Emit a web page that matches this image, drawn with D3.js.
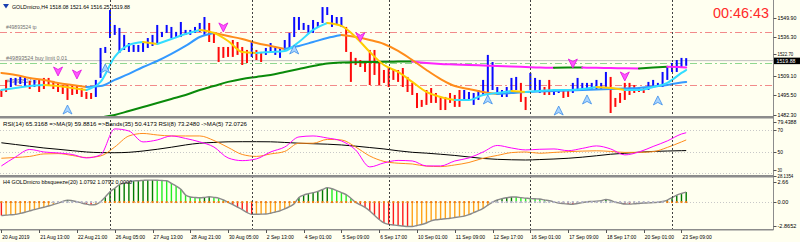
<!DOCTYPE html>
<html><head><meta charset="utf-8">
<script src="https://cdn.jsdelivr.net/npm/d3@7"></script>
<style>
html,body{margin:0;padding:0;background:#fffff0;}
svg{display:block;}
text{font-family:"Liberation Sans",Arial,sans-serif;}
</style></head><body>
<svg id="c" width="800" height="242"></svg>
<script>
// ---------------- DATA ----------------
const dateLabels = ["20 Aug 2019","21 Aug 13:00","22 Aug 21:00","26 Aug 05:00","27 Aug 13:00","28 Aug 21:00","30 Aug 05:00","2 Sep 13:00","4 Sep 01:00","5 Sep 09:00","6 Sep 17:00","10 Sep 01:00","11 Sep 09:00","12 Sep 17:00","16 Sep 01:00","17 Sep 09:00","18 Sep 17:00","20 Sep 01:00","23 Sep 09:00"];
const weekStarts = [23,53,82,112,142];
const priceTicks = [1549.90,1536.30,1522.70,1509.10,1495.50,1482.30];
const lastPrice = 1519.88;
const highs = [1499.2,1506.3,1507.7,1507.7,1508.4,1507.7,1505.6,1506.3,1506.3,1507.7,
 1507.7,1505.6,1504.2,1502.7,1502.7,1502.7,1502.0,1500.6,1497.8,1497.1,
 1506.3,1528.8,1529.5,1555.5,1545.0,1542.9,1538.0,1532.3,1530.9,1530.9,
 1533.0,1535.8,1538.0,1545.0,1540.1,1545.0,1543.6,1540.1,1547.1,1541.5,
 1541.5,1543.6,1546.4,1550.6,1546.4,1540.1,1529.5,1529.5,1529.5,1534.4,
 1533.0,1529.5,1527.4,1533.0,1527.4,1526.0,1528.8,1532.3,1529.5,1528.8,
 1534.4,1539.4,1550.6,1550.6,1546.4,1545.0,1548.5,1547.1,1557.6,1557.6,
 1552.0,1550.6,1550.6,1543.6,1526.0,1521.8,1520.3,1518.9,1527.4,1527.4,
 1518.9,1513.3,1515.4,1513.3,1513.3,1514.7,1508.4,1504.2,1497.1,1492.2,
 1499.2,1500.6,1497.1,1494.3,1494.3,1497.1,1495.7,1499.2,1499.2,1497.8,
 1497.1,1499.2,1506.3,1523.9,1518.9,1501.3,1499.2,1501.3,1507.7,1508.4,
 1504.2,1494.3,1511.2,1507.7,1506.3,1501.3,1506.3,1499.2,1499.2,1499.2,
 1499.2,1504.2,1507.7,1504.2,1504.2,1504.2,1506.3,1504.2,1511.9,1508.4,
 1493.6,1497.1,1504.2,1504.2,1502.7,1501.3,1501.3,1504.9,1506.3,1504.2,
 1511.9,1515.4,1518.2,1520.3,1521.8,1521.64];
const lows = [1494.3,1497.8,1501.3,1502.7,1503.4,1502.0,1499.9,1501.3,1497.8,1499.9,
 1502.0,1499.9,1497.8,1496.4,1492.2,1495.7,1496.4,1494.3,1492.9,1492.9,
 1494.3,1507.7,1525.3,1535.8,1538.0,1525.3,1527.4,1526.0,1526.0,1526.0,
 1526.0,1528.8,1530.2,1532.3,1536.5,1539.4,1535.8,1535.8,1536.5,1538.0,
 1538.0,1539.4,1540.1,1538.0,1533.0,1532.3,1518.9,1521.8,1522.5,1522.5,
 1523.9,1516.8,1518.2,1522.5,1520.3,1518.9,1523.9,1525.3,1523.9,1521.8,
 1528.8,1528.8,1536.5,1541.5,1541.5,1539.4,1539.4,1543.6,1546.4,1552.0,
 1543.6,1545.0,1543.6,1526.0,1504.9,1516.8,1515.4,1511.9,1502.7,1509.8,
 1502.7,1504.2,1501.3,1506.3,1504.9,1501.3,1497.8,1495.7,1486.5,1487.3,
 1488.7,1490.1,1490.1,1485.1,1485.1,1490.1,1487.3,1487.3,1492.2,1492.2,
 1488.7,1492.2,1495.7,1497.1,1499.2,1495.7,1494.3,1494.3,1497.1,1499.2,
 1490.8,1485.1,1499.2,1497.8,1497.1,1495.7,1495.7,1495.7,1497.1,1493.6,
 1494.3,1497.1,1499.2,1499.2,1499.2,1499.2,1499.2,1499.2,1500.6,1483.0,
 1487.3,1490.1,1492.2,1495.7,1497.1,1497.8,1497.1,1499.2,1500.6,1501.3,
 1501.3,1506.3,1511.9,1511.9,1514.7,1516.25];
const barDir = "dduuuududd"+"dddddddddd"+"uuuuuuuuuu"+"uuuuuuuuuu"+"uuuudddddd"+
 "dddudduuuu"+"uuuuuuuuuu"+"uuuddddddd"+"dddddddddd"+"dddddddduu"+
 "uuuuuuuuuu"+"dduuudduud"+"duuuuuuuud"+"ddddddduuu"+"uuuuuu";
// moving averages sampled every 3 bars (bars 0,3,...,144,145)
const maFast = [1499.2,1500.6,1502.0,1502.7,1502.0,1500.6,1499.2,1504.9,1522.5,1530.9,
 1533.0,1531.6,1535.1,1538.6,1541.5,1539.4,1533.7,1526.0,1525.3,1526.0,
 1526.7,1533.0,1541.5,1546.4,1544.3,1536.5,1526.0,1516.8,1511.9,1504.9,
 1497.8,1494.3,1492.2,1492.2,1495.7,1497.1,1498.5,1497.8,1498.5,1499.2,
 1499.2,1499.9,1501.3,1500.6,1499.2,1499.2,1501.3,1504.2,1511.2,1513.3];
const maMid = [1511.2,1509.8,1507.7,1506.3,1504.2,1502.7,1501.3,1502.0,1506.3,1510.5,
 1515.4,1519.6,1524.6,1530.2,1536.5,1539.4,1537.2,1535.1,1532.3,1530.2,
 1528.1,1530.2,1533.0,1535.8,1537.9,1536.5,1534.4,1531.6,1526.7,1520.3,
 1513.3,1506.9,1502.0,1499.9,1497.8,1496.4,1497.1,1497.8,1498.2,1498.5,
 1498.9,1499.2,1499.6,1499.9,1500.3,1500.6,1501.7,1502.7,1504.5,1504.8];
const maSlow = [1464.0,1466.8,1469.6,1471.7,1473.9,1476.0,1478.1,1479.8,1481.6,1484.4,
 1487.2,1490.0,1492.9,1495.7,1499.2,1502.0,1504.9,1507.0,1508.4,1509.8,
 1511.9,1514.0,1516.1,1517.9,1518.6,1518.8,1518.9,1519.1,1519.2,1519.3,
 1518.2,1517.5,1517.2,1516.8,1516.5,1516.1,1515.8,1515.4,1515.0,1514.8,
 1515.0,1515.1,1514.8,1514.7,1514.5,1514.4,1515.0,1515.5,1515.3,1515.1];
const orderLevels = [{name:"#49893524 tp",price:1540.3,kind:"tp"},
 {name:"#49893524 buy limit 0.01",price:1518.4,kind:"limit"},
 {name:"#49893524 sl",price:1502.7,kind:"sl"}];
const upArrows = [{i:14,p:1485.1},{i:22,p:1514.0},{i:62,p:1527.4},{i:103,p:1492.2},{i:118,p:1484.4},{i:124,p:1492.2},{i:139,p:1491.5}];
const downArrows = [{i:12,p:1512.6},{i:16,p:1510.5},{i:47,p:1543.6},{i:76,p:1536.7},{i:121,p:1518.2},{i:132,p:1509.1}];
// RSI panel (sampled every 3 bars)
const rsi14 = [36.8,45.1,52.0,49.7,48.8,47.4,44.2,47.0,71.0,69.1,
 59.0,60.8,64.5,62.2,59.0,54.3,44.2,41.7,43.3,49.7,
 54.3,63.6,64.5,62.6,59.9,51.6,35.9,39.6,41.9,41.4,
 36.8,36.8,41.4,44.2,49.7,55.7,53.4,51.6,52.2,52.5,
 50.9,53.0,55.3,52.5,47.0,49.7,54.8,59.9,66.3,67.5];
const rsiMa = [43.9,44.6,45.6,47.9,48.2,46.5,44.6,46.0,54.3,64.5,
 66.8,65.4,64.5,64.5,64.5,60.3,53.9,47.4,45.6,47.9,
 50.2,57.8,57.8,61.3,60.8,54.3,46.0,41.0,39.3,38.6,
 36.6,36.2,37.7,40.0,43.9,46.5,49.1,49.7,48.5,49.3,
 50.0,50.5,50.8,50.2,49.3,49.4,50.0,53.9,59.0,60.8];
const rsiBands = [58.2,56.6,55.0,53.4,52.2,50.9,49.7,49.1,49.0,49.4,
 50.6,52.2,54.1,56.2,57.8,58.5,59.1,59.2,59.2,59.1,
 58.5,57.8,57.3,56.9,56.2,55.1,53.8,52.5,50.8,49.4,
 48.6,47.6,46.5,45.1,43.7,42.9,42.5,42.3,42.7,43.2,
 43.9,44.9,46.2,47.6,48.5,49.5,50.2,50.6,50.9,51.0];
const rsiTicks = [70,50,30];
// bbsqueeze per bar
const squeeze = [-1.47,-1.42,-1.38,-1.34,-1.23,-1.10,-0.96,-0.82,-0.69,-0.56,
 -0.43,-0.28,-0.11,0.06,0.21,0.14,0.04,-0.10,-0.22,-0.31,
 -0.26,0.04,0.55,1.12,1.50,1.88,2.05,2.17,2.29,2.31,
 2.35,2.38,2.38,2.36,2.33,2.31,2.03,1.74,1.38,0.76,
 0.55,0.50,0.47,0.51,0.57,0.51,0.43,0.23,-0.04,-0.29,
 -0.55,-0.82,-1.13,-1.33,-1.32,-1.31,-1.30,-1.21,-1.08,-0.95,
 -0.75,-0.50,-0.18,0.49,0.76,0.90,1.02,1.15,1.36,1.56,
 1.44,1.24,1.02,0.81,0.42,-0.03,-0.30,-0.57,-0.96,-1.44,
 -1.89,-2.26,-2.42,-2.48,-2.54,-2.59,-2.65,-2.65,-2.54,-2.43,
 -2.27,-2.03,-1.92,-1.87,-1.81,-1.76,-1.68,-1.60,-1.52,-1.37,
 -1.14,-0.94,-0.68,-0.34,-0.02,0.22,0.37,0.47,0.55,0.54,
 0.48,0.43,0.37,0.35,0.33,0.23,0.14,0.02,-0.11,-0.17,
 -0.21,-0.23,-0.15,-0.06,0.04,0.07,0.09,0.15,0.29,0.18,
 -0.02,-0.12,-0.21,-0.22,-0.19,-0.15,-0.11,-0.09,-0.06,-0.04,
 0.06,0.22,0.49,0.75,0.93,1.08];
const squeezeOffRanges = [[11,21],[104,140]];
const sqTicks = ["2.66","0.00","-2.8652"];

// ---------------- DRAW ----------------
const svg = d3.select("#c");
const nBars = highs.length;
const sampleIdx = d3.range(0,nBars-1,3).concat([nBars-1]);
const xS = d3.scaleLinear().domain([0,145]).range([1.37,686.2]);
const yP = d3.scaleLinear().domain([1482.3,1549.9]).range([114,18]);
const yR = d3.scaleLinear().domain([30,70]).range([173.3,130]);
const yS = d3.scaleLinear().domain([-2.8652,2.66]).range([228.5,177.5]);
const AX = 773.5;

svg.append("rect").attr("width",800).attr("height",242).attr("fill","#fffff0");
const defs = svg.append("defs");
defs.append("clipPath").attr("id","cm").append("rect").attr("x",0).attr("y",0).attr("width",773).attr("height",116);
defs.append("clipPath").attr("id","cr").append("rect").attr("x",0).attr("y",118.5).attr("width",773).attr("height",56.5);
defs.append("clipPath").attr("id","cs").append("rect").attr("x",0).attr("y",177.5).attr("width",773).attr("height",51.5);

const gMain = svg.append("g").attr("clip-path","url(#cm)");
const gRsi = svg.append("g").attr("clip-path","url(#cr)");
const gSq = svg.append("g").attr("clip-path","url(#cs)");

// order levels
const levelColor = {tp:"#f28a8a",sl:"#f28a8a",limit:"#8fd88f"};
orderLevels.forEach(o=>{
  gMain.append("line").attr("x1",0).attr("x2",AX).attr("y1",Math.round(yP(o.price))+0.5).attr("y2",Math.round(yP(o.price))+0.5)
   .attr("stroke",levelColor[o.kind]).attr("stroke-width",1).attr("stroke-dasharray","7,3,2,3");
});
// bid line
gMain.append("line").attr("x1",0).attr("x2",AX).attr("y1",yP(lastPrice)).attr("y2",yP(lastPrice)).attr("stroke","#c0c0c0").attr("stroke-width",1);
orderLevels.forEach(o=>{
  gMain.append("text").attr("x",6).attr("y",yP(o.price)-2.5).attr("font-size",6).attr("fill","#707070")
   .attr("textLength",o.name.length*2.55).attr("lengthAdjust","spacingAndGlyphs").text(o.name);
});

// week separators
weekStarts.forEach(i=>{
  svg.append("line").attr("x1",Math.round(xS(i))+0.5).attr("x2",Math.round(xS(i))+0.5).attr("y1",0).attr("y2",229)
   .attr("stroke","#404040").attr("stroke-width",1).attr("stroke-dasharray","2,2");
});

// bars
gMain.selectAll("rect.bar").data(d3.range(nBars)).enter().append("rect")
  .attr("x",i=>xS(i)-1).attr("width",2)
  .attr("y",i=>yP(highs[i])).attr("height",i=>Math.max(1,yP(lows[i])-yP(highs[i])))
  .attr("fill",i=>barDir[i]==="u"?"#0a0aff":"#ff0a0a");

// colored MA helper
function coloredLine(g, vals, yScale, upC, dnC, w){
  const pts = sampleIdx.map((i,k)=>[xS(i), yScale(vals[k]), vals[k]]);
  let runs=[]; let cur=null;
  for(let k=1;k<pts.length;k++){
    const up = pts[k][2]>=pts[k-1][2];
    if(!cur || cur.up!==up){ cur={up, pts:[pts[k-1]]}; runs.push(cur); }
    cur.pts.push(pts[k]);
  }
  const ln = d3.line().x(d=>d[0]).y(d=>d[1]).curve(d3.curveMonotoneX);
  runs.forEach(r=>{
    g.append("path").attr("d",ln(r.pts)).attr("fill","none").attr("stroke",r.up?upC:dnC)
     .attr("stroke-width",w).attr("stroke-linejoin","round").attr("stroke-linecap","round");
  });
}
coloredLine(gMain, maSlow, yP, "#0a8a0a", "#ff22ff", 2);
coloredLine(gMain, maMid, yP, "#3399ff", "#ff8c1a", 2);
coloredLine(gMain, maFast, yP, "#33ddff", "#ffcc00", 2);

// arrows
upArrows.forEach(a=>{
  gMain.append("path").attr("transform",`translate(${xS(a.i)},${yP(a.p)})`)
   .attr("d","M0,-5 L4.5,4 L0,1.5 L-4.5,4 Z").attr("fill","#a8d4ff").attr("stroke","#3d8ee8").attr("stroke-width",0.8);
});
downArrows.forEach(a=>{
  gMain.append("path").attr("transform",`translate(${xS(a.i)},${yP(a.p)})`)
   .attr("d","M-4.5,-4 L0,-1.5 L4.5,-4 L0,5 Z").attr("fill","#ff55ff").attr("stroke","#e010e0").attr("stroke-width",0.8);
});

// title
svg.append("path").attr("d","M3,4 L9,4 L6,8.5 Z").attr("fill","#1a3fb0");
const title = "GOLDmicro,H4  1518.08 1521.64 1516.25 1519.88";
svg.append("text").attr("x",12).attr("y",9).attr("font-size",6.2).attr("fill","#000")
  .attr("textLength",118).attr("lengthAdjust","spacingAndGlyphs").text(title);
// timer
svg.append("text").attr("x",713).attr("y",17.5).attr("font-size",14).attr("fill","#ff2a2a")
  .attr("textLength",56).attr("lengthAdjust","spacingAndGlyphs").text("00:46:43");

// RSI panel
rsiTicks.forEach(t=>{
  gRsi.append("line").attr("x1",0).attr("x2",AX).attr("y1",Math.round(yR(t))+0.5).attr("y2",Math.round(yR(t))+0.5)
   .attr("stroke","#c8c8c8").attr("stroke-dasharray","1,2");
});
const rl = d3.line().x((d,k)=>xS(sampleIdx[k])).y(d=>yR(d)).curve(d3.curveMonotoneX);
gRsi.append("path").attr("d",rl(rsiBands)).attr("fill","none").attr("stroke","#000").attr("stroke-width",1);
gRsi.append("path").attr("d",rl(rsiMa)).attr("fill","none").attr("stroke","#ff8c1a").attr("stroke-width",1);
gRsi.append("path").attr("d",rl(rsi14)).attr("fill","none").attr("stroke","#ff00ff").attr("stroke-width",1);
const rsiLabel = "RSI(14) 65.3168 =>MA(9) 59.8816 =>Bands(35) 50.4173 RSI(8) 73.2480 ->MA(5) 72.0726";
svg.append("text").attr("x",3).attr("y",126).attr("font-size",6).attr("fill","#000")
  .attr("textLength",244).attr("lengthAdjust","spacingAndGlyphs").text(rsiLabel);

// squeeze panel
gSq.append("line").attr("x1",0).attr("x2",AX).attr("y1",Math.round(yS(0))+0.5).attr("y2",Math.round(yS(0))+0.5)
  .attr("stroke","#c8c8c8").attr("stroke-dasharray","1,2");
gSq.selectAll("line.h").data(d3.range(nBars)).enter().append("line")
  .attr("x1",i=>xS(i)).attr("x2",i=>xS(i)).attr("y1",yS(0)).attr("y2",i=>yS(squeeze[i]))
  .attr("stroke-width",1.4)
  .attr("stroke",i=>{const v=squeeze[i], p=i>0?squeeze[i-1]:v+1;
     if(v>=0) return v>=p?"#007a00":"#22ee22"; return v<p?"#ff1a1a":"#ffa31a";});
gSq.append("path").attr("d",d3.line().x((d,i)=>xS(i)).y(d=>yS(d)).curve(d3.curveMonotoneX)(squeeze))
  .attr("fill","none").attr("stroke","#8a8a8a").attr("stroke-width",1.4);
gSq.selectAll("rect.dot").data(d3.range(nBars)).enter().append("rect")
  .attr("x",i=>xS(i)-1).attr("y",yS(0)-1).attr("width",2).attr("height",2)
  .attr("fill",i=>squeezeOffRanges.some(r=>i>=r[0]&&i<=r[1])?"#b4b4c8":"#f07c10");
svg.append("text").attr("x",3).attr("y",183.5).attr("font-size",6).attr("fill","#000")
  .attr("textLength",129).attr("lengthAdjust","spacingAndGlyphs").text("H4 GOLDmicro bbsqueeze(20) 1.0792 1.0792 0.0000");

// frames
svg.append("rect").attr("x",0).attr("y",116).attr("width",AX).attr("height",2.5).attr("fill","#8c8c8c");
svg.append("rect").attr("x",0).attr("y",175).attr("width",AX).attr("height",2.5).attr("fill","#8c8c8c");
svg.append("rect").attr("x",0).attr("y",229).attr("width",AX).attr("height",1.5).attr("fill","#8c8c8c");
svg.append("line").attr("x1",AX).attr("x2",AX).attr("y1",0).attr("y2",230).attr("stroke","#8c8c8c");

// right axis labels
function axLabel(y, txt, fs){
  fs = fs||6;
  svg.append("line").attr("x1",AX).attr("x2",AX+3).attr("y1",Math.round(y)+0.5).attr("y2",Math.round(y)+0.5).attr("stroke","#555");
  svg.append("text").attr("x",AX+4).attr("y",y+fs*0.36).attr("font-size",fs).attr("fill","#000")
   .attr("textLength",txt.length*2.7*fs/6).attr("lengthAdjust","spacingAndGlyphs").text(txt);
}
priceTicks.forEach(p=>{
  let y = yP(p);
  if(p===1482.30) y += 1;
  if(Math.abs(p-1522.70)<0.01) { axLabel(y-2.2, p.toFixed(2), 5); return; }
  axLabel(y, p.toFixed(2));
});
// current price box
svg.append("rect").attr("x",AX+0.5).attr("y",yP(lastPrice)-3).attr("width",26.5).attr("height",6.5).attr("fill","#000");
svg.append("text").attr("x",AX+3).attr("y",yP(lastPrice)+2.2).attr("font-size",6).attr("fill","#fff")
  .attr("textLength",19).attr("lengthAdjust","spacingAndGlyphs").text(lastPrice.toFixed(2));
axLabel(122.2,"79.4388");
axLabel(yR(70),"70");
axLabel(yR(50),"50");
axLabel(yR(30)-3,"30",5);
axLabel(176,"28.1354",5);
axLabel(181.7,sqTicks[0]);
axLabel(yS(0),sqTicks[1]);
axLabel(225.7,sqTicks[2]);

// date axis
dateLabels.forEach((d,k)=>{
  const x = xS(k*8);
  svg.append("line").attr("x1",Math.round(x)+0.5).attr("x2",Math.round(x)+0.5).attr("y1",230).attr("y2",233).attr("stroke","#555");
  svg.append("text").attr("x",x+1).attr("y",238.5).attr("font-size",6).attr("fill","#000")
   .attr("textLength",d.length*2.45).attr("lengthAdjust","spacingAndGlyphs").text(d);
});
</script>
</body></html>
